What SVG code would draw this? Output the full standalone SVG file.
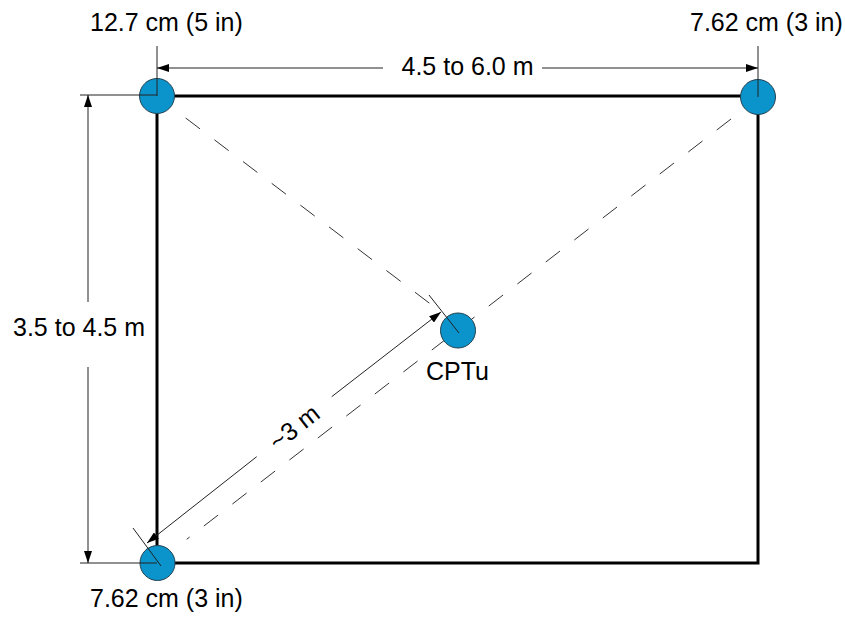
<svg xmlns="http://www.w3.org/2000/svg" width="845" height="617" viewBox="0 0 845 617">
<defs>
<style>
.t{font-family:"Liberation Sans",Arial,sans-serif;font-size:25px;fill:#000}
.hole{fill:#0b93cb;stroke:#24414f;stroke-width:1}
.dim{stroke:#222;stroke-width:1;fill:none}
.dash{stroke:#333;stroke-width:1;fill:none;stroke-dasharray:18 18}
.frame{stroke:#000;stroke-width:3;fill:none}
</style>
<marker id="ah" markerUnits="userSpaceOnUse" markerWidth="12" markerHeight="8" viewBox="0 0 12 8" refX="12" refY="4" orient="auto-start-reverse">
<path d="M0,0 L12,4 L0,8 Z" fill="#000"/>
</marker>
</defs>
<rect width="845" height="617" fill="#fff"/>
<g id="site">
<rect class="frame" x="157" y="96" width="601" height="467"/>
</g>
<g id="connectors">
<line class="dash" x1="185.7" y1="118" x2="441" y2="312"/>
<line class="dash" x1="731" y1="119" x2="186.7" y2="539.3"/>
</g>
<g id="hole-tl"><circle class="hole" cx="157" cy="96" r="17.5"/><text class="t" x="90" y="31">12.7 cm (5 in)</text></g>
<g id="hole-tr"><circle class="hole" cx="758" cy="97" r="17.5"/><text class="t" x="690" y="31">7.62 cm (3 in)</text></g>
<g id="hole-bl"><circle class="hole" cx="157.5" cy="563" r="17.5"/><text class="t" x="90" y="607">7.62 cm (3 in)</text></g>
<g id="cptu"><circle class="hole" cx="458" cy="330.5" r="17.5"/><text class="t" x="426" y="380">CPTu</text></g>
<g id="dimensions">
<line class="dim" x1="157" y1="46" x2="157" y2="96"/>
<line class="dim" x1="758" y1="46" x2="758" y2="97"/>
<line class="dim" x1="157" y1="68" x2="383" y2="68" marker-start="url(#ah)"/>
<line class="dim" x1="542" y1="68" x2="758" y2="68" marker-end="url(#ah)"/>
<text class="t" x="467.5" y="75" text-anchor="middle">4.5 to 6.0 m</text>
<line class="dim" x1="80" y1="95" x2="157" y2="95"/>
<line class="dim" x1="80" y1="563" x2="157" y2="563"/>
<line class="dim" x1="88" y1="95" x2="88" y2="302" marker-start="url(#ah)"/>
<line class="dim" x1="88" y1="367" x2="88" y2="563" marker-end="url(#ah)"/>
<text class="t" x="79" y="336" text-anchor="middle">3.5 to 4.5 m</text>
<line class="dim" x1="429" y1="295" x2="459" y2="333"/>
<line class="dim" x1="133" y1="528" x2="161" y2="566"/>
<line class="dim" x1="147" y1="543" x2="256.7" y2="456.7" marker-start="url(#ah)"/>
<line class="dim" x1="331.7" y1="396.7" x2="441" y2="312" marker-end="url(#ah)"/>
<text class="t" transform="translate(294,427) rotate(-38.2)" x="0" y="9" text-anchor="middle">~3 m</text>
</g>
</svg>
